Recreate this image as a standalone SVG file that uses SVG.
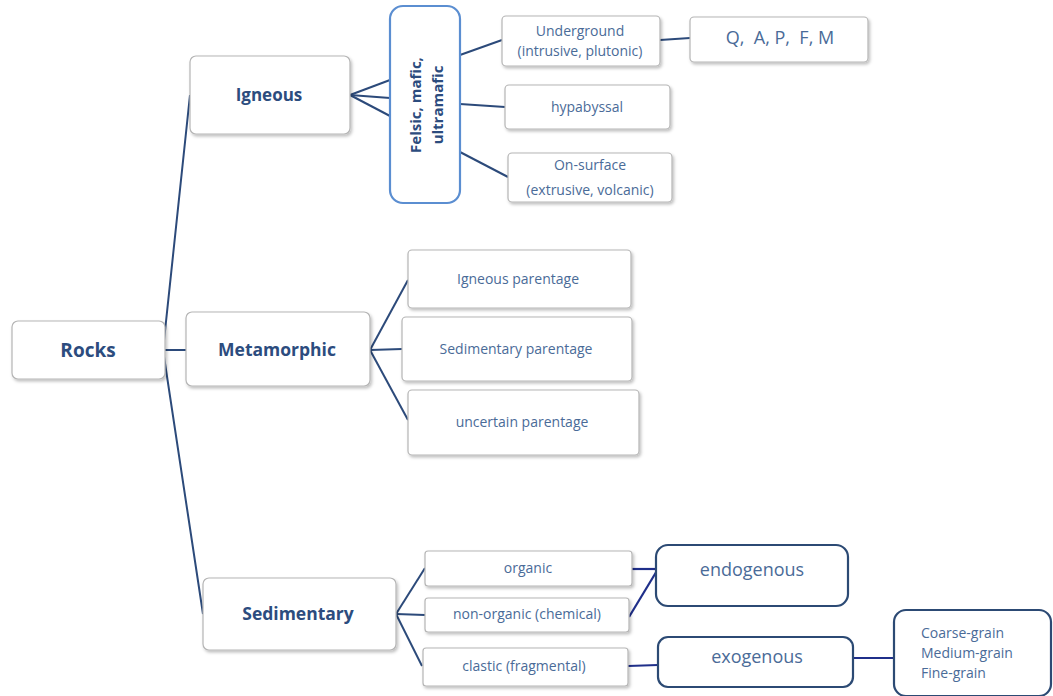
<svg xmlns="http://www.w3.org/2000/svg" width="1053" height="696" viewBox="0 0 1053 696">
<defs>
<filter id="sh" x="-10%" y="-10%" width="125%" height="130%">
<feDropShadow dx="1.5" dy="2" stdDeviation="1.5" flood-color="#000" flood-opacity="0.25"/>
</filter>
</defs>
<style>
text{font-variant-ligatures:none}
.box{fill:#fff;stroke:#b5b5b5;stroke-width:1.2;filter:url(#sh)}
.blue{fill:#fff;stroke:#5b8ed1;stroke-width:2.2}
.navy{fill:#fff;stroke:#2c4a74;stroke-width:2.2}
.big{font-family:"Open Sans","Noto Sans",sans-serif;font-weight:bold;fill:#2c4c7e;text-anchor:middle}
.sm{font-family:"Open Sans","Noto Sans",sans-serif;fill:#4a6b98;text-anchor:middle;font-size:14px}
.md{font-family:"Open Sans","Noto Sans",sans-serif;fill:#4a6b98;text-anchor:middle;font-size:18px}
.c{stroke:#2c4a7a;stroke-width:2;fill:none}
.c2{stroke:#1f2f8a;stroke-width:2.2;fill:none}
</style>
<rect width="1053" height="696" fill="#fff"/>
<g id="connectors">
<polyline class="c" points="190,95 163,350 203,614"/>
<line class="c" x1="163" y1="350" x2="186" y2="350"/>
<line class="c" x1="350" y1="95" x2="390" y2="80"/>
<line class="c" x1="350" y1="95" x2="390" y2="98"/>
<line class="c" x1="350" y1="95" x2="390" y2="116"/>
<line class="c" x1="460" y1="55" x2="502" y2="40"/>
<line class="c" x1="460" y1="104" x2="505" y2="107"/>
<line class="c" x1="460" y1="152" x2="508" y2="177"/>
<line class="c" x1="660" y1="40" x2="690" y2="38"/>
<line class="c" x1="370" y1="350" x2="408" y2="280"/>
<line class="c" x1="370" y1="350" x2="402" y2="349"/>
<line class="c" x1="370" y1="350" x2="408" y2="420"/>
<line class="c" x1="396" y1="614" x2="425" y2="568"/>
<line class="c" x1="396" y1="614" x2="425" y2="615"/>
<line class="c" x1="396" y1="614" x2="422" y2="666"/>
<line class="c2" x1="632" y1="569" x2="658" y2="569"/>
<line class="c2" x1="629" y1="617" x2="658" y2="569"/>
<line class="c2" x1="628" y1="666" x2="658" y2="665"/>
<line class="c2" x1="853" y1="658" x2="894" y2="658"/>
</g>
<g id="rocks"><rect class="box" x="12" y="321" width="153" height="58" rx="6"/><text class="big" x="88" y="357" font-size="19">Rocks</text></g>
<g id="igneous"><rect class="box" x="190" y="56" width="160" height="78" rx="6"/><text class="big" x="269" y="101" font-size="17">Igneous</text></g>
<g id="metamorphic"><rect class="box" x="186" y="312" width="184" height="74" rx="6"/><text class="big" x="277" y="356" font-size="17.5">Metamorphic</text></g>
<g id="sedimentary"><rect class="box" x="203" y="578" width="193" height="72" rx="6"/><text class="big" x="298" y="620" font-size="17.5">Sedimentary</text></g>
<g id="felsic"><rect class="blue" x="390" y="6" width="70" height="197" rx="13"/>
<text class="big" font-size="15" transform="translate(421,105) rotate(-90)"><tspan x="0" y="0">Felsic, mafic,</tspan><tspan x="0" y="22">ultramafic</tspan></text></g>
<g id="underground"><rect class="box" x="502" y="16" width="158" height="50" rx="4"/><text class="sm" x="580" y="36">Underground</text><text class="sm" x="580" y="56">(intrusive, plutonic)</text></g>
<g id="qapfm"><rect class="box" x="690" y="17" width="178" height="45" rx="4"/><text class="md" x="780" y="44" font-size="17px" xml:space="preserve">Q,  A, P,  F, M</text></g>
<g id="hypabyssal"><rect class="box" x="505" y="85" width="165" height="44" rx="4"/><text class="sm" x="587" y="112">hypabyssal</text></g>
<g id="onsurface"><rect class="box" x="508" y="153" width="164" height="49" rx="4"/><text class="sm" x="590" y="170">On-surface</text><text class="sm" x="590" y="195">(extrusive, volcanic)</text></g>
<g id="igparent"><rect class="box" x="408" y="250" width="223" height="58" rx="4"/><text class="sm" x="518" y="284">Igneous parentage</text></g>
<g id="sedparent"><rect class="box" x="402" y="317" width="230" height="64" rx="4"/><text class="sm" x="516" y="354">Sedimentary parentage</text></g>
<g id="uncparent"><rect class="box" x="408" y="390" width="231" height="65" rx="4"/><text class="sm" x="522" y="427">uncertain parentage</text></g>
<g id="organic"><rect class="box" x="425" y="551" width="207" height="35" rx="3"/><text class="sm" x="528" y="573">organic</text></g>
<g id="nonorganic"><rect class="box" x="425" y="598" width="204" height="34" rx="3"/><text class="sm" x="527" y="619">non-organic (chemical)</text></g>
<g id="clastic"><rect class="box" x="423" y="648" width="205" height="38" rx="3"/><text class="sm" x="524" y="671">clastic (fragmental)</text></g>
<g id="endogenous"><rect class="navy" x="656" y="545" width="192" height="61" rx="12"/><text class="md" x="752" y="576">endogenous</text></g>
<g id="exogenous"><rect class="navy" x="658" y="637" width="195" height="50" rx="10"/><text class="md" x="757" y="663">exogenous</text></g>
<g id="grain"><rect class="navy" x="894" y="610" width="157" height="86" rx="12"/>
<text class="sm" style="text-anchor:start" x="921" y="638">Coarse-grain</text>
<text class="sm" style="text-anchor:start" x="921" y="658">Medium-grain</text>
<text class="sm" style="text-anchor:start" x="921" y="678">Fine-grain</text></g>
</svg>
